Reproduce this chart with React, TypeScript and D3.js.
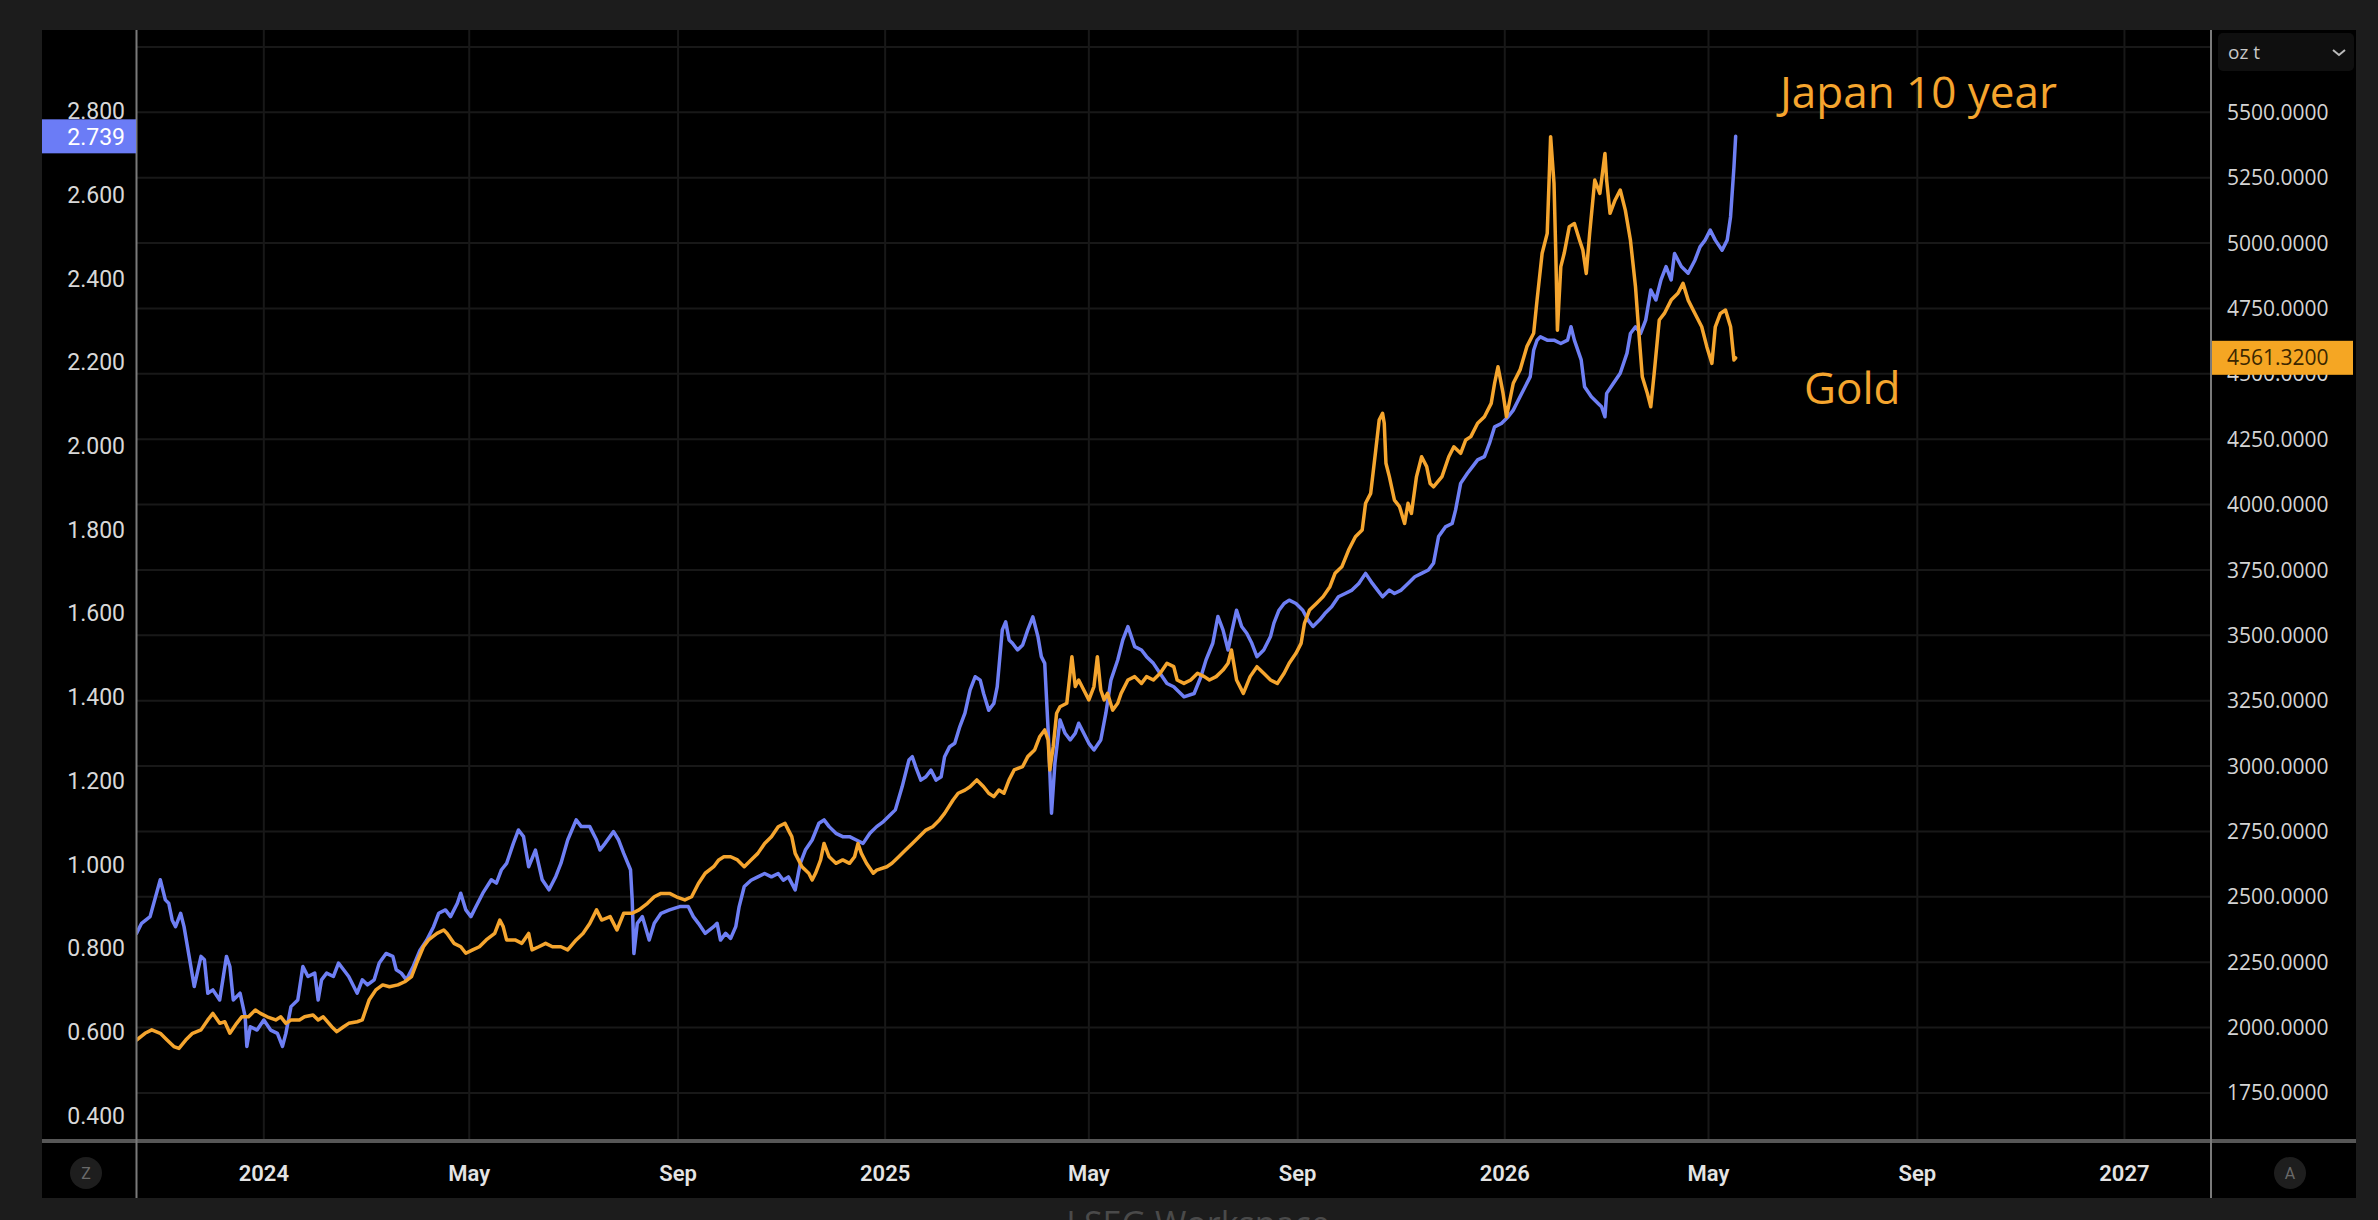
import React from 'react';
import * as d3 from 'd3';

// Japan 10 year yield (left axis)
const jgbDates = [
  '2023-10-18','2023-10-21','2023-10-26','2023-11-01','2023-11-04','2023-11-06','2023-11-08','2023-11-10','2023-11-13','2023-11-15',
  '2023-11-18','2023-11-21','2023-11-25','2023-11-27','2023-11-29','2023-12-02','2023-12-06','2023-12-10','2023-12-12','2023-12-14',
  '2023-12-18','2023-12-21','2023-12-22','2023-12-24','2023-12-28','2024-01-01','2024-01-05','2024-01-09','2024-01-12','2024-01-14',
  '2024-01-17','2024-01-21','2024-01-24','2024-01-27','2024-01-31','2024-02-02','2024-02-04','2024-02-07','2024-02-11','2024-02-14',
  '2024-02-17','2024-02-20','2024-02-25','2024-02-28','2024-03-02','2024-03-06','2024-03-09','2024-03-13','2024-03-17','2024-03-19',
  '2024-03-22','2024-03-25','2024-03-29','2024-04-02','2024-04-06','2024-04-10','2024-04-13','2024-04-17','2024-04-20','2024-04-24',
  '2024-04-26','2024-04-29','2024-05-02','2024-05-05','2024-05-09','2024-05-14','2024-05-17','2024-05-20','2024-05-23','2024-05-27',
  '2024-05-30','2024-06-02','2024-06-05','2024-06-09','2024-06-13','2024-06-17','2024-06-21','2024-06-24','2024-06-28','2024-07-03',
  '2024-07-06','2024-07-11','2024-07-15','2024-07-17','2024-07-20','2024-07-25','2024-07-28','2024-07-31','2024-08-04','2024-08-05',
  '2024-08-06','2024-08-08','2024-08-11','2024-08-15','2024-08-18','2024-08-22','2024-08-27','2024-09-02','2024-09-07','2024-09-10',
  '2024-09-13','2024-09-17','2024-09-22','2024-09-24','2024-09-26','2024-09-29','2024-10-02','2024-10-05','2024-10-07','2024-10-10',
  '2024-10-14','2024-10-18','2024-10-22','2024-10-26','2024-10-30','2024-11-02','2024-11-05','2024-11-09','2024-11-12','2024-11-15',
  '2024-11-19','2024-11-23','2024-11-26','2024-11-29','2024-12-03','2024-12-07','2024-12-11','2024-12-15','2024-12-19','2024-12-23',
  '2024-12-27','2024-12-31','2025-01-03','2025-01-07','2025-01-11','2025-01-15','2025-01-17','2025-01-19','2025-01-22','2025-01-25',
  '2025-01-28','2025-01-31','2025-02-03','2025-02-05','2025-02-08','2025-02-11','2025-02-14','2025-02-17','2025-02-20','2025-02-23',
  '2025-02-26','2025-02-28','2025-03-03','2025-03-06','2025-03-08','2025-03-11','2025-03-13','2025-03-15','2025-03-17','2025-03-20',
  '2025-03-23','2025-03-26','2025-03-29','2025-04-01','2025-04-03','2025-04-05','2025-04-07','2025-04-09','2025-04-11','2025-04-14',
  '2025-04-17','2025-04-20','2025-04-23','2025-04-25','2025-04-28','2025-05-01','2025-05-04','2025-05-08','2025-05-11','2025-05-14',
  '2025-05-18','2025-05-21','2025-05-24','2025-05-28','2025-06-01','2025-06-04','2025-06-08','2025-06-12','2025-06-16','2025-06-20',
  '2025-06-26','2025-07-02','2025-07-06','2025-07-09','2025-07-13','2025-07-16','2025-07-19','2025-07-22','2025-07-24','2025-07-27',
  '2025-07-30','2025-08-02','2025-08-05','2025-08-08','2025-08-12','2025-08-16','2025-08-18','2025-08-21','2025-08-24','2025-08-27',
  '2025-08-31','2025-09-04','2025-09-07','2025-09-10','2025-09-14','2025-09-17','2025-09-21','2025-09-25','2025-09-29','2025-10-03',
  '2025-10-07','2025-10-11','2025-10-15','2025-10-18','2025-10-21','2025-10-25','2025-10-28','2025-11-01','2025-11-05','2025-11-09',
  '2025-11-13','2025-11-17','2025-11-20','2025-11-23','2025-11-27','2025-12-01','2025-12-03','2025-12-06','2025-12-10','2025-12-13',
  '2025-12-16','2025-12-20','2025-12-23','2025-12-26','2025-12-30','2026-01-03','2026-01-06','2026-01-09','2026-01-12','2026-01-16',
  '2026-01-18','2026-01-20','2026-01-22','2026-01-26','2026-01-30','2026-02-03','2026-02-07','2026-02-09','2026-02-11','2026-02-15',
  '2026-02-17','2026-02-21','2026-02-25','2026-02-27','2026-03-01','2026-03-02','2026-03-06','2026-03-10','2026-03-14','2026-03-16',
  '2026-03-19','2026-03-22','2026-03-25','2026-03-28','2026-03-31','2026-04-03','2026-04-06','2026-04-09','2026-04-11','2026-04-15',
  '2026-04-19','2026-04-23','2026-04-26','2026-04-29','2026-05-02','2026-05-05','2026-05-09','2026-05-12','2026-05-14','2026-05-16',
  '2026-05-17',
];
const jgbValues = [
  0.835,0.859,0.875,0.963,0.915,0.907,0.867,0.851,0.883,0.851,
  0.780,0.708,0.780,0.772,0.692,0.700,0.676,0.780,0.756,0.676,
  0.692,0.636,0.565,0.612,0.604,0.628,0.604,0.596,0.565,0.596,
  0.660,0.676,0.756,0.732,0.740,0.676,0.724,0.740,0.732,0.764,
  0.748,0.732,0.692,0.724,0.712,0.724,0.764,0.787,0.780,0.748,
  0.740,0.724,0.756,0.795,0.819,0.851,0.883,0.891,0.875,0.907,
  0.931,0.891,0.875,0.899,0.931,0.963,0.955,0.987,1.002,1.050,
  1.082,1.066,0.994,1.034,0.963,0.939,0.971,1.002,1.058,1.106,
  1.090,1.090,1.058,1.034,1.050,1.078,1.058,1.026,0.987,0.915,
  0.787,0.859,0.875,0.819,0.859,0.883,0.891,0.899,0.899,0.875,
  0.859,0.835,0.851,0.859,0.819,0.835,0.823,0.851,0.899,0.947,
  0.962,0.970,0.978,0.970,0.978,0.962,0.970,0.939,1.002,1.034,
  1.058,1.098,1.106,1.090,1.074,1.066,1.066,1.058,1.050,1.074,
  1.090,1.102,1.114,1.130,1.185,1.249,1.257,1.233,1.201,1.209,
  1.225,1.201,1.209,1.257,1.281,1.289,1.329,1.361,1.416,1.448,
  1.440,1.408,1.368,1.384,1.424,1.560,1.579,1.536,1.528,1.512,
  1.524,1.560,1.591,1.544,1.496,1.480,1.321,1.122,1.241,1.345,
  1.313,1.297,1.313,1.337,1.313,1.289,1.273,1.297,1.361,1.440,
  1.488,1.536,1.568,1.520,1.512,1.496,1.480,1.456,1.432,1.424,
  1.400,1.408,1.448,1.488,1.528,1.592,1.560,1.512,1.552,1.607,
  1.568,1.552,1.528,1.496,1.512,1.544,1.576,1.607,1.623,1.631,
  1.623,1.607,1.584,1.568,1.584,1.599,1.615,1.639,1.647,1.655,
  1.671,1.695,1.671,1.655,1.639,1.655,1.647,1.655,1.671,1.687,
  1.695,1.703,1.719,1.783,1.806,1.814,1.846,1.910,1.934,1.950,
  1.966,1.974,2.006,2.045,2.053,2.069,2.085,2.109,2.133,2.165,
  2.228,2.252,2.260,2.252,2.252,2.244,2.252,2.284,2.252,2.205,
  2.141,2.117,2.101,2.093,2.069,2.125,2.149,2.173,2.221,2.268,
  2.284,2.268,2.300,2.372,2.348,2.396,2.428,2.396,2.459,2.428,
  2.412,2.443,2.475,2.491,2.515,2.491,2.467,2.491,2.547,2.666,
  2.739,
];

// Gold, USD per troy ounce (right axis)
const goldDates = [
  '2023-10-18','2023-10-23','2023-10-27','2023-11-01','2023-11-05','2023-11-09','2023-11-12','2023-11-16','2023-11-20','2023-11-25',
  '2023-11-29','2023-12-02','2023-12-06','2023-12-09','2023-12-12','2023-12-16','2023-12-19','2023-12-23','2023-12-27','2023-12-30',
  '2024-01-03','2024-01-08','2024-01-11','2024-01-14','2024-01-17','2024-01-22','2024-01-25','2024-01-30','2024-02-02','2024-02-05',
  '2024-02-10','2024-02-13','2024-02-17','2024-02-20','2024-02-25','2024-02-28','2024-03-01','2024-03-03','2024-03-07','2024-03-11',
  '2024-03-15','2024-03-20','2024-03-24','2024-03-28','2024-03-31','2024-04-04','2024-04-07','2024-04-12','2024-04-16','2024-04-18',
  '2024-04-22','2024-04-26','2024-04-29','2024-05-03','2024-05-07','2024-05-11','2024-05-16','2024-05-19','2024-05-21','2024-05-23',
  '2024-05-28','2024-06-01','2024-06-05','2024-06-07','2024-06-11','2024-06-15','2024-06-19','2024-06-24','2024-06-28','2024-07-03',
  '2024-07-07','2024-07-11','2024-07-15','2024-07-18','2024-07-23','2024-07-27','2024-07-31','2024-08-05','2024-08-09','2024-08-14',
  '2024-08-18','2024-08-22','2024-08-27','2024-08-31','2024-09-05','2024-09-09','2024-09-13','2024-09-17','2024-09-22','2024-09-25',
  '2024-09-28','2024-10-02','2024-10-06','2024-10-10','2024-10-14','2024-10-18','2024-10-22','2024-10-26','2024-10-30','2024-11-03',
  '2024-11-05','2024-11-07','2024-11-09','2024-11-13','2024-11-17','2024-11-19','2024-11-21','2024-11-24','2024-11-26','2024-11-29',
  '2024-12-03','2024-12-07','2024-12-11','2024-12-14','2024-12-16','2024-12-18','2024-12-21','2024-12-25','2024-12-27','2025-01-02',
  '2025-01-05','2025-01-09','2025-01-13','2025-01-17','2025-01-21','2025-01-25','2025-01-29','2025-02-02','2025-02-05','2025-02-10',
  '2025-02-13','2025-02-17','2025-02-20','2025-02-24','2025-02-28','2025-03-03','2025-03-06','2025-03-09','2025-03-12','2025-03-15',
  '2025-03-18','2025-03-23','2025-03-26','2025-03-30','2025-04-02','2025-04-05','2025-04-07','2025-04-08','2025-04-10','2025-04-12',
  '2025-04-14','2025-04-18','2025-04-21','2025-04-23','2025-04-25','2025-04-28','2025-05-01','2025-05-04','2025-05-06','2025-05-08',
  '2025-05-10','2025-05-12','2025-05-15','2025-05-18','2025-05-20','2025-05-24','2025-05-28','2025-06-01','2025-06-04','2025-06-08',
  '2025-06-12','2025-06-16','2025-06-20','2025-06-22','2025-06-26','2025-06-30','2025-07-04','2025-07-08','2025-07-11','2025-07-15',
  '2025-07-19','2025-07-22','2025-07-24','2025-07-27','2025-07-31','2025-08-04','2025-08-08','2025-08-12','2025-08-16','2025-08-20',
  '2025-08-24','2025-08-27','2025-08-31','2025-09-03','2025-09-05','2025-09-08','2025-09-12','2025-09-16','2025-09-20','2025-09-23',
  '2025-09-27','2025-10-01','2025-10-05','2025-10-09','2025-10-11','2025-10-14','2025-10-17','2025-10-19','2025-10-21','2025-10-22',
  '2025-10-23','2025-10-25','2025-10-28','2025-10-31','2025-11-03','2025-11-05','2025-11-07','2025-11-10','2025-11-13','2025-11-16',
  '2025-11-18','2025-11-20','2025-11-25','2025-11-29','2025-12-02','2025-12-06','2025-12-09','2025-12-12','2025-12-16','2025-12-20',
  '2025-12-24','2025-12-26','2025-12-28','2025-12-31','2026-01-02','2026-01-04','2026-01-06','2026-01-10','2026-01-14','2026-01-18',
  '2026-01-20','2026-01-23','2026-01-26','2026-01-28','2026-01-30','2026-01-31','2026-02-01','2026-02-03','2026-02-05','2026-02-08',
  '2026-02-11','2026-02-14','2026-02-16','2026-02-18','2026-02-20','2026-02-23','2026-02-26','2026-03-01','2026-03-02','2026-03-04',
  '2026-03-07','2026-03-10','2026-03-13','2026-03-16','2026-03-19','2026-03-21','2026-03-23','2026-03-26','2026-03-28','2026-03-30',
  '2026-04-02','2026-04-05','2026-04-09','2026-04-13','2026-04-16','2026-04-19','2026-04-23','2026-04-27','2026-04-30','2026-05-03',
  '2026-05-05','2026-05-08','2026-05-11','2026-05-14','2026-05-16','2026-05-17',
];
const goldValues = [
  1952,1978,1991,1978,1952,1927,1920,1952,1978,1991,
  2029,2054,2016,2022,1978,2016,2041,2041,2067,2054,
  2041,2029,2041,2016,2029,2029,2041,2048,2029,2041,
  2003,1984,2003,2016,2022,2029,2067,2105,2144,2163,
  2156,2163,2175,2195,2246,2309,2335,2360,2373,2360,
  2322,2309,2284,2297,2309,2335,2360,2411,2386,2335,
  2335,2322,2360,2297,2309,2322,2309,2309,2297,2335,
  2360,2398,2450,2411,2424,2373,2437,2437,2450,2475,
  2500,2513,2513,2500,2488,2500,2551,2590,2615,2641,
  2653,2653,2641,2615,2641,2666,2704,2730,2768,2781,
  2755,2730,2666,2615,2590,2564,2590,2641,2704,2653,
  2628,2641,2628,2653,2704,2666,2628,2590,2602,2615,
  2628,2653,2679,2704,2730,2755,2768,2794,2819,2870,
  2896,2908,2921,2947,2921,2896,2883,2908,2896,2947,
  2985,2998,3036,3061,3112,3138,3100,2985,3074,3202,
  3227,3240,3418,3304,3329,3291,3253,3304,3418,3291,
  3253,3278,3214,3240,3278,3329,3342,3316,3342,3329,
  3355,3393,3380,3329,3316,3329,3355,3342,3329,3342,
  3367,3393,3444,3329,3278,3342,3380,3355,3329,3316,
  3355,3393,3431,3469,3546,3597,3622,3648,3686,3737,
  3762,3826,3877,3903,4005,4043,4209,4323,4349,4311,
  4158,4107,4017,3992,3928,4005,3966,4107,4183,4145,
  4081,4068,4107,4183,4221,4196,4247,4260,4311,4336,
  4387,4464,4527,4425,4336,4400,4464,4515,4604,4655,
  4782,4961,5037,5407,5228,4973,4667,4910,4961,5063,
  5075,5012,4973,4884,5037,5241,5190,5343,5241,5114,
  5165,5203,5126,5012,4833,4655,4489,4425,4374,4502,
  4706,4731,4782,4808,4846,4782,4731,4680,4604,4540,
  4680,4731,4744,4680,4553,4561.32,
];

const jgbTicks = [0.4, 0.6, 0.8, 1.0, 1.2, 1.4, 1.6, 1.8, 2.0, 2.2, 2.4, 2.6, 2.8];
const goldTicks = [1750, 2000, 2250, 2500, 2750, 3000, 3250, 3500, 3750, 4000, 4250, 4500, 4750, 5000, 5250, 5500];
const goldGrid = [...goldTicks, 5750];
const timeTicks = ['2024-01-01','2024-05-01','2024-09-01','2025-01-01','2025-05-01','2025-09-01','2026-01-01','2026-05-01','2026-09-01','2027-01-01'];
const timeLabels = ['2024','May','Sep','2025','May','Sep','2026','May','Sep','2027'];

const jgbLast = '2.739';
const goldLast = '4561.3200';

const W = 2378;
const H = 1220;
const BLUE = '#6e7ff4';
const ORANGE = '#f5a52e';
const GRID = '#181818';
const LABEL_FONT = 'Roboto, "DejaVu Sans", sans-serif';
const RIGHT_FONT = '"Open Sans", "Noto Sans", sans-serif';

export default function App() {
  const parse = d3.timeParse('%Y-%m-%d');
  const plot = { left: 136.5, right: 2211, top: 30, bottom: 1141 };

  const x = d3.scaleTime()
    .domain([parse('2023-10-18')!, parse('2027-02-21')!])
    .range([plot.left, plot.right]);
  const yL = d3.scaleLinear().domain([0.339, 2.993]).range([plot.bottom, plot.top]);
  const yR = d3.scaleLinear().domain([1566, 5815]).range([plot.bottom, plot.top]);

  const jgb = jgbDates.map((d, i) => ({ date: parse(d)!, value: jgbValues[i] }));
  const gold = goldDates.map((d, i) => ({ date: parse(d)!, value: goldValues[i] }));

  const jgbLine = d3.line<{ date: Date; value: number }>()
    .x(d => x(d.date))
    .y(d => yL(d.value));
  const goldLine = d3.line<{ date: Date; value: number }>()
    .x(d => x(d.date))
    .y(d => yR(d.value));

  const fmtL = d3.format('.3f');
  const fmtR = d3.format('.4f');
  const yJ = yL(jgbValues[jgbValues.length - 1]);
  const yG = yR(goldValues[goldValues.length - 1]);

  return (
    <>
      <style>{`body{margin:0;background:#1c1c1c}`}</style>
      <svg width={W} height={H} style={{ display: 'block' }}>
        <defs>
          <clipPath id="plotClip">
            <rect x={plot.left} y={plot.top} width={plot.right - plot.left} height={plot.bottom - plot.top} />
          </clipPath>
        </defs>
        <rect x={0} y={0} width={W} height={H} fill="#1c1c1c" />
        <rect x={42} y={30} width={2314} height={1168} fill="#000" />

        {/* grid */}
        {goldGrid.map(t => (
          <line key={'h' + t} x1={plot.left} x2={plot.right} y1={yR(t)} y2={yR(t)} stroke={GRID} strokeWidth={2} />
        ))}
        {timeTicks.map(t => (
          <line key={'v' + t} x1={x(parse(t)!)} x2={x(parse(t)!)} y1={plot.top} y2={plot.bottom} stroke={GRID} strokeWidth={2} />
        ))}

        {/* series */}
        <g clipPath="url(#plotClip)" fill="none" strokeWidth={3.5} strokeLinejoin="round" strokeLinecap="round">
          <path d={jgbLine(jgb) || ''} stroke={BLUE} />
          <path d={goldLine(gold) || ''} stroke={ORANGE} />
        </g>

        {/* axis frame */}
        <line x1={42} x2={2356} y1={plot.bottom} y2={plot.bottom} stroke="#575757" strokeWidth={4} />
        <line x1={plot.left} x2={plot.left} y1={30} y2={1198} stroke="#7a7a7a" strokeWidth={2} />
        <line x1={plot.right} x2={plot.right} y1={30} y2={1198} stroke="#7a7a7a" strokeWidth={2} />

        {/* left axis */}
        {jgbTicks.map(t => (
          <text key={'l' + t} x={125} y={yL(t)} dy="0.36em" textAnchor="end" fill="#d8d8d8"
            fontFamily={LABEL_FONT} fontSize={23}>{fmtL(t)}</text>
        ))}
        <rect x={42} y={yJ - 17} width={94} height={34} fill="#6b7cf6" />
        <text x={125} y={yJ} dy="0.36em" textAnchor="end" fill="#fff" fontFamily={LABEL_FONT} fontSize={23}>{jgbLast}</text>

        {/* right axis */}
        {goldTicks.map(t => (
          <text key={'r' + t} x={2227} y={yR(t)} dy="0.36em" fill="#d4d4d4"
            fontFamily={RIGHT_FONT} fontSize={21}>{fmtR(t)}</text>
        ))}
        <rect x={2212} y={yG - 17} width={141} height={34} fill="#f5a623" />
        <text x={2227} y={yG} dy="0.36em" fill="#3b2600" fontFamily={RIGHT_FONT} fontSize={21}>{goldLast}</text>

        {/* unit selector */}
        <rect x={2218} y={33} width={136} height={38} rx={5} fill="#0f0f0f" />
        <text x={2228} y={52} dy="0.36em" fill="#c8c8c8" fontFamily={RIGHT_FONT} fontSize={19}>oz t</text>
        <polyline points="2333,50 2339,55 2345,50" fill="none" stroke="#bbb" strokeWidth={2} />

        {/* time axis */}
        {timeTicks.map((t, i) => (
          <text key={'t' + t} x={x(parse(t)!)} y={1173} dy="0.36em" textAnchor="middle" fill="#e4e4e4"
            fontFamily={LABEL_FONT} fontSize={22} fontWeight={600}>{timeLabels[i]}</text>
        ))}
        <circle cx={86} cy={1173} r={16} fill="#1e1e1e" />
        <text x={86} y={1173} dy="0.36em" textAnchor="middle" fill="#6a6a6a" fontFamily={LABEL_FONT} fontSize={16}>Z</text>
        <circle cx={2290} cy={1173} r={16} fill="#1e1e1e" />
        <text x={2290} y={1173} dy="0.36em" textAnchor="middle" fill="#6a6a6a" fontFamily={LABEL_FONT} fontSize={16}>A</text>

        {/* annotations */}
        <text x={1780} y={108} fill={ORANGE} fontFamily={RIGHT_FONT} fontSize={44} fontWeight={500}>Japan 10 year</text>
        <text x={1804} y={404} fill={ORANGE} fontFamily={RIGHT_FONT} fontSize={44} fontWeight={500}>Gold</text>

        {/* watermark, cut at the bottom edge */}
        <text x={1198} y={1236} textAnchor="middle" fill="#4a4a4a" fontFamily={RIGHT_FONT} fontSize={34}>LSEG Workspace</text>
      </svg>
    </>
  );
}
